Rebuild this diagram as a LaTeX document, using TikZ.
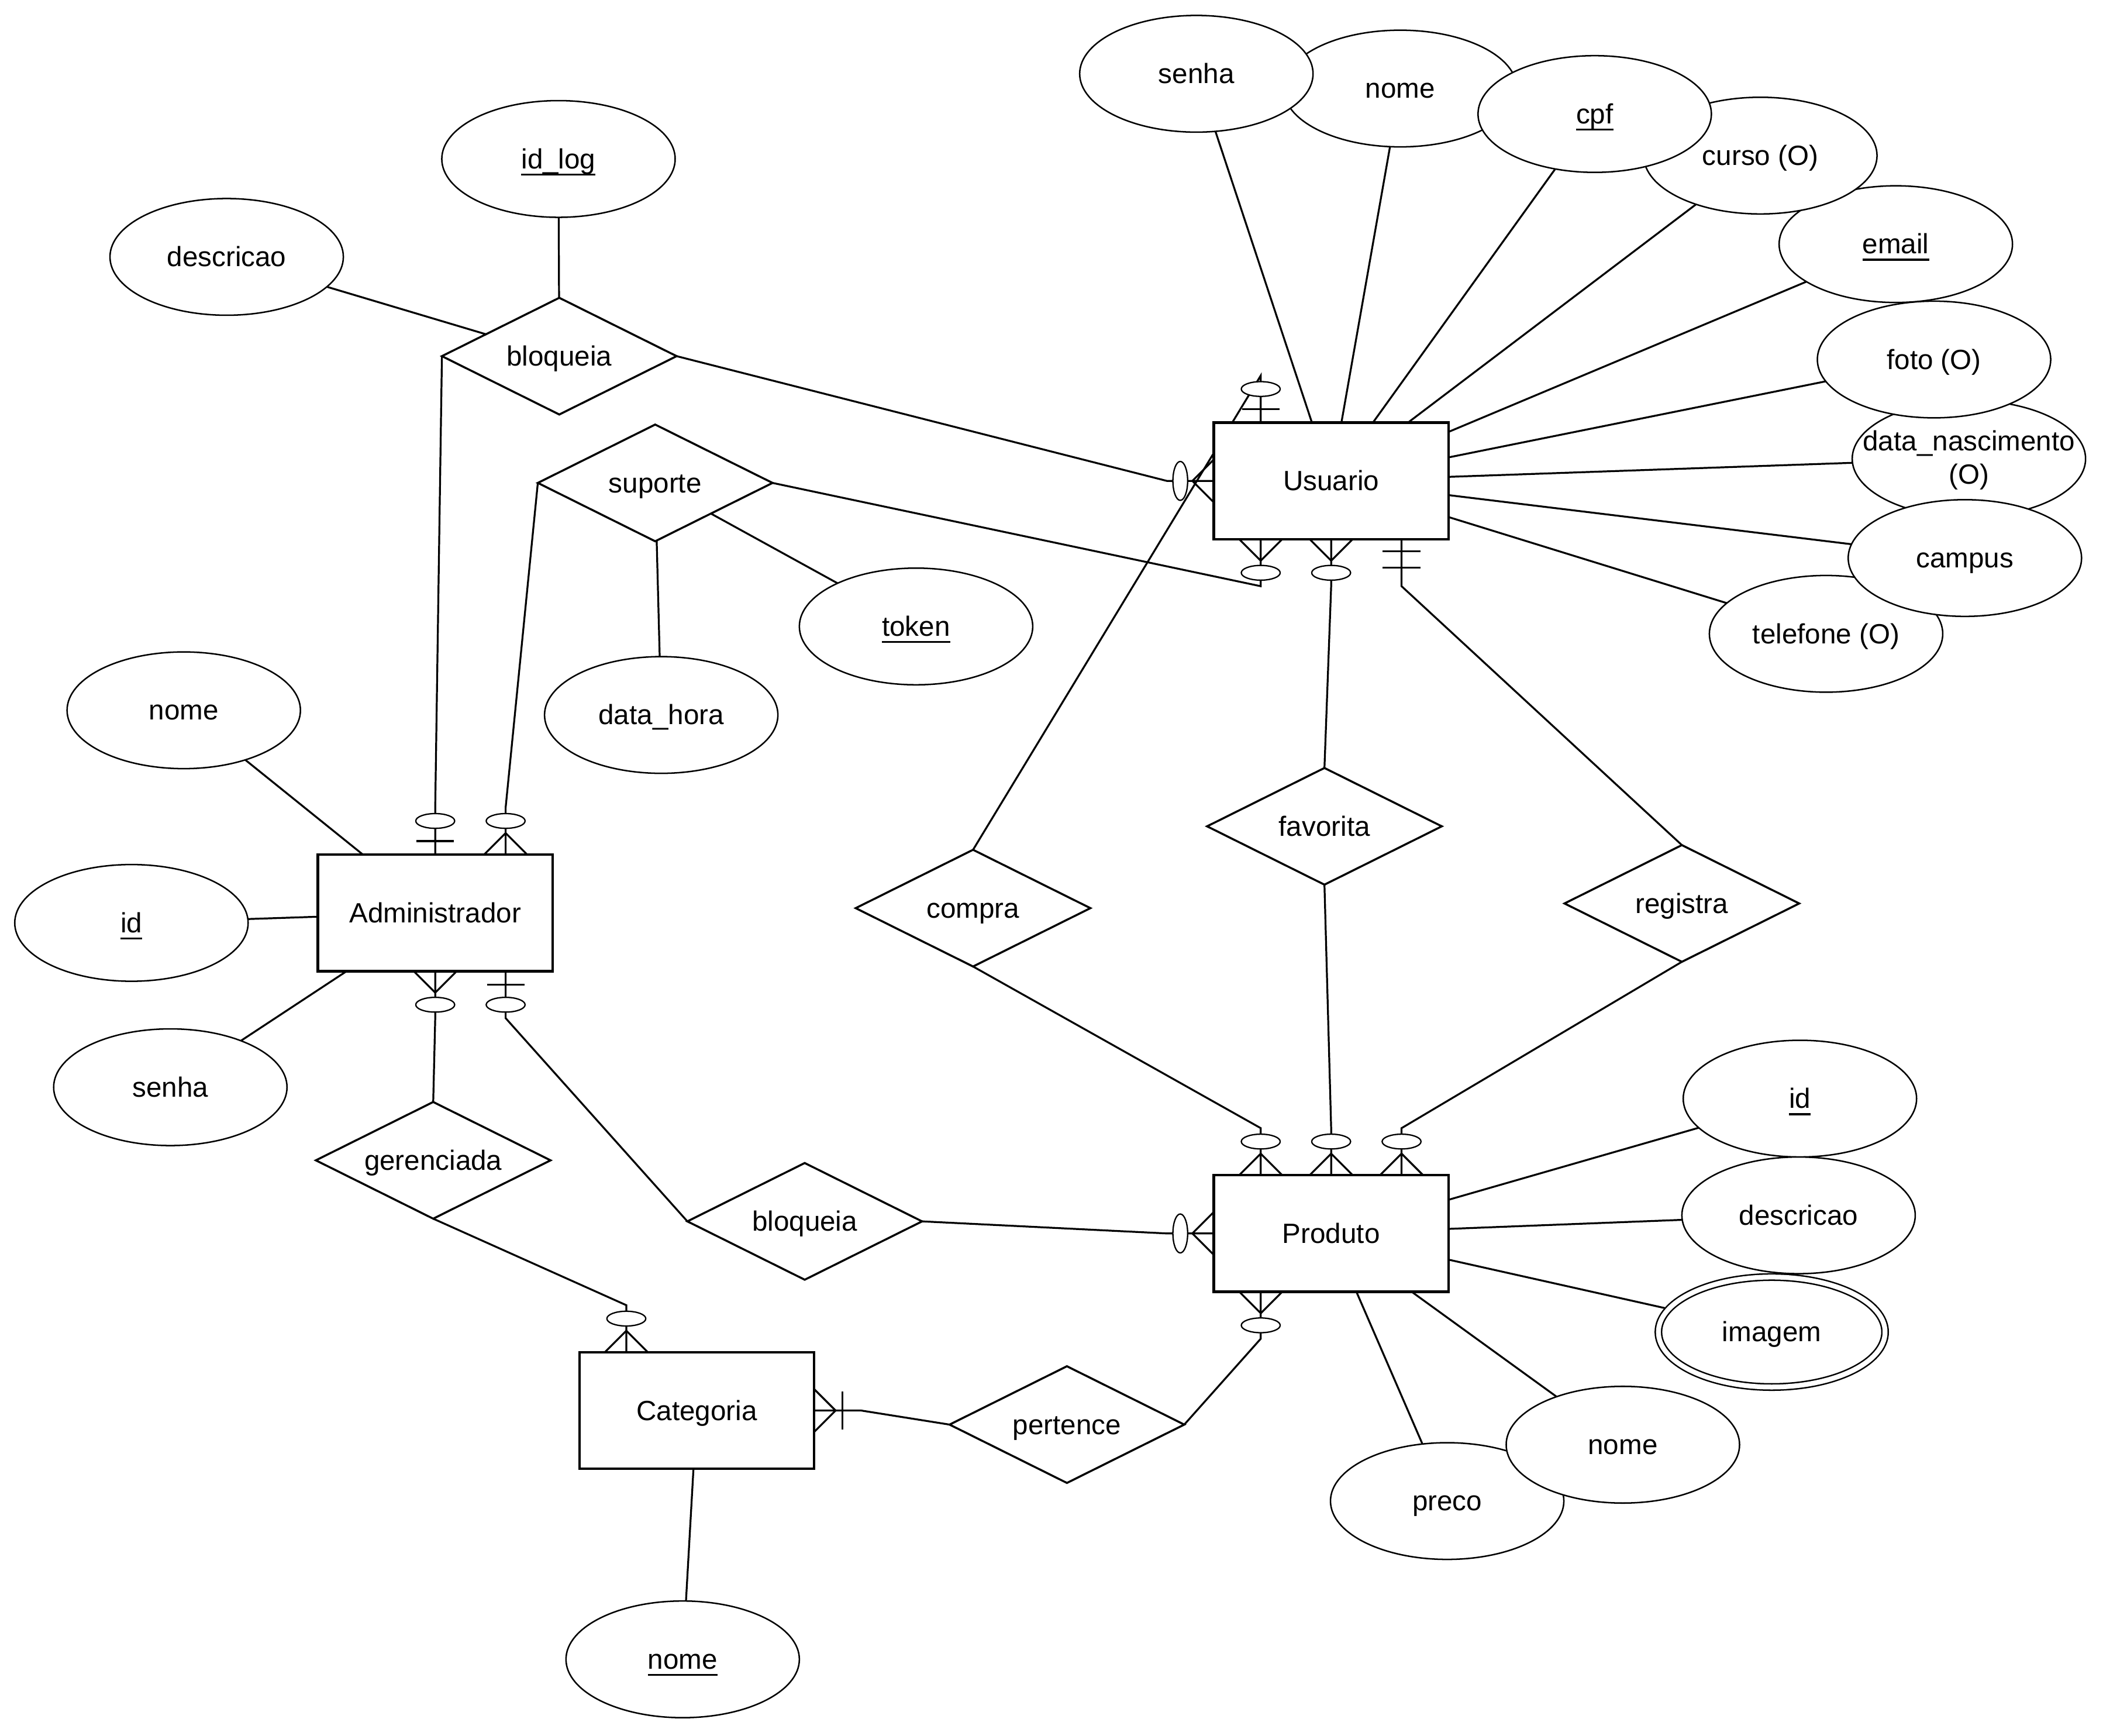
\documentclass[tikz,border=0pt]{standalone}
\usepackage{fontspec}
\setmainfont{Liberation Sans}
\usetikzlibrary{shapes.geometric,backgrounds}
\newcommand{\erfont}{\fontsize{20.75pt}{24.9pt}\selectfont}
\newcommand{\erul}[1]{\sbox0{#1}\rlap{\usebox0}\rule[-5.2pt]{\wd0}{1.5pt}}
\tikzset{
  entity/.style={draw, rectangle, line width=1.9pt, fill=white, minimum width=175pt, minimum height=87pt, inner sep=0pt, outer sep=0pt, font=\erfont, text height=19.6pt, text depth=5.2pt},
  rel/.style={draw, diamond, aspect=2, line width=1.5pt, fill=white, minimum width=175pt, minimum height=87pt, inner sep=0pt, outer sep=0pt, font=\erfont, text height=19.6pt, text depth=5.2pt},
  attr/.style={draw, ellipse, line width=1.1pt, fill=white, minimum width=174pt, minimum height=87pt, inner sep=0pt, outer sep=0pt, font=\erfont, text height=19.6pt, text depth=5.2pt},
  multi/.style={attr, double, double distance=3.6pt, minimum width=169pt, minimum height=82pt},
  conn/.style={line width=1.4pt, line join=miter},
  mk/.style={line width=1.4pt},
  mkell/.style={line width=1.0pt, fill=white},
}
% markers: #1 = attachment coordinate, #2 = outward direction (degrees)
\newcommand{\mkzm}[2]{\begin{scope}[shift={(#1)},rotate=#2]
  \draw[mk] (0pt,16pt) -- (16pt,0pt) -- (0pt,-16pt);
  \draw[mkell] (25pt,0pt) ellipse [x radius=5.5pt, y radius=14.5pt];
\end{scope}}
\newcommand{\mkzo}[2]{\begin{scope}[shift={(#1)},rotate=#2]
  \draw[mk] (10pt,-14pt) -- (10pt,14pt);
  \draw[mkell] (25pt,0pt) ellipse [x radius=5.5pt, y radius=14.5pt];
\end{scope}}
\newcommand{\mkmo}[2]{\begin{scope}[shift={(#1)},rotate=#2]
  \draw[mk] (9pt,-14pt) -- (9pt,14pt);
  \draw[mk] (21pt,-14pt) -- (21pt,14pt);
\end{scope}}
\newcommand{\mkom}[2]{\begin{scope}[shift={(#1)},rotate=#2]
  \draw[mk] (0pt,16pt) -- (16pt,0pt) -- (0pt,-16pt);
  \draw[mk] (21pt,-14pt) -- (21pt,14pt);
\end{scope}}
\begin{document}
\begin{tikzpicture}[x=1pt,y=-1pt]
\useasboundingbox (0,0) rectangle (1568,1294);

% entities
\node[entity] (usuario) at (992.5,358.5) {Usuario};
\node[entity] (admin) at (324.5,680.5) {Administrador};
\node[entity] (produto) at (992.5,919.5) {Produto};
\node[entity] (categoria) at (519.5,1051.5) {Categoria};

% relationships
\node[rel] (bloqA) at (417,265.5) {bloqueia};
\node[rel] (suporte) at (488.5,360) {suporte};
\node[rel] (favorita) at (987.5,616) {favorita};
\node[rel] (compra) at (725.5,677) {compra};
\node[rel] (registra) at (1254,673.5) {registra};
\node[rel] (gerenciada) at (323,865) {gerenciada};
\node[rel] (bloqB) at (600,910.5) {bloqueia};
\node[rel] (pertence) at (795.5,1062) {pertence};

% attributes (order gives stacking)
\node[attr] (tel) at (1361.5,472.5) {telefone (O)};
\node[attr] (dn) at (1468,342) {};
\node[font=\erfont, align=center, inner sep=0pt] (dnlabel) at (1468,343) {data\_nascimento\\(O)};
\node[attr] (campus) at (1465,416) {campus};
\node[attr] (foto) at (1442,268) {foto (O)};
\node[attr] (email) at (1413.5,182) {\erul{email}};
\node[attr] (curso) at (1312.5,116) {curso (O)};
\node[attr] (nomeU) at (1044,66) {nome};
\node[attr] (cpf) at (1189,85) {\erul{cpf}};
\node[attr] (senhaU) at (892,55) {senha};
\node[attr] (idlog) at (416.4,118.5) {\erul{id\_log}};
\node[attr] (descA) at (169,191.5) {descricao};
\node[attr] (token) at (683,467) {\erul{token}};
\node[attr] (datahora) at (493,533) {data\_hora};
\node[attr] (nomeA) at (137,529.5) {nome};
\node[attr] (idA) at (98,688) {\erul{id}};
\node[attr] (senhaA) at (127,810.5) {senha};
\node[attr] (idP) at (1342,819) {\erul{id}};
\node[attr] (descP) at (1341,906) {descricao};
\node[multi] (img) at (1321,993) {imagem};
\node[attr] (preco) at (1079,1119) {preco};
\node[attr] (nomeP) at (1210,1077) {nome};
\node[attr] (nomeC) at (509,1237) {\erul{nome}};

% attachment points and stub ends
\coordinate (uT) at ([xshift=-52.5pt]usuario.north);
\coordinate (uTs) at ([yshift=35pt]uT);
\coordinate (uL) at (usuario.west);
\coordinate (uLs) at ([xshift=-35pt]uL);
\coordinate (uB1) at ([xshift=-52.5pt]usuario.south);
\coordinate (uB1s) at ([yshift=-35pt]uB1);
\coordinate (uB2) at (usuario.south);
\coordinate (uB2s) at ([yshift=-35pt]uB2);
\coordinate (uB3) at ([xshift=52.5pt]usuario.south);
\coordinate (uB3s) at ([yshift=-35pt]uB3);
\coordinate (aT1) at (admin.north);
\coordinate (aT1s) at ([yshift=35pt]aT1);
\coordinate (aT2) at ([xshift=52.5pt]admin.north);
\coordinate (aT2s) at ([yshift=35pt]aT2);
\coordinate (aB1) at (admin.south);
\coordinate (aB1s) at ([yshift=-35pt]aB1);
\coordinate (aB2) at ([xshift=52.5pt]admin.south);
\coordinate (aB2s) at ([yshift=-35pt]aB2);
\coordinate (pT1) at ([xshift=-52.5pt]produto.north);
\coordinate (pT1s) at ([yshift=35pt]pT1);
\coordinate (pT2) at (produto.north);
\coordinate (pT2s) at ([yshift=35pt]pT2);
\coordinate (pT3) at ([xshift=52.5pt]produto.north);
\coordinate (pT3s) at ([yshift=35pt]pT3);
\coordinate (pL) at (produto.west);
\coordinate (pLs) at ([xshift=-35pt]pL);
\coordinate (pB) at ([xshift=-52.5pt]produto.south);
\coordinate (pBs) at ([yshift=-35pt]pB);
\coordinate (cT) at ([xshift=-52.5pt]categoria.north);
\coordinate (cTs) at ([yshift=35pt]cT);
\coordinate (cR) at (categoria.east);
\coordinate (cRs) at ([xshift=35pt]cR);

\begin{pgfonlayer}{background}
\fill[white] (0,0) rectangle (1568,1294);
% relationship connectors
\draw[conn] (compra.north) -- (uTs) -- (uT);
\draw[conn] (bloqA.east) -- (uLs) -- (uL);
\draw[conn] (suporte.east) -- (uB1s) -- (uB1);
\draw[conn] (favorita.north) -- (uB2s) -- (uB2);
\draw[conn] (registra.north) -- (uB3s) -- (uB3);
\draw[conn] (bloqA.west) -- (aT1s) -- (aT1);
\draw[conn] (suporte.west) -- (aT2s) -- (aT2);
\draw[conn] (gerenciada.north) -- (aB1s) -- (aB1);
\draw[conn] (bloqB.west) -- (aB2s) -- (aB2);
\draw[conn] (compra.south) -- (pT1s) -- (pT1);
\draw[conn] (favorita.south) -- (pT2s) -- (pT2);
\draw[conn] (registra.south) -- (pT3s) -- (pT3);
\draw[conn] (bloqB.east) -- (pLs) -- (pL);
\draw[conn] (pertence.east) -- (pBs) -- (pB);
\draw[conn] (gerenciada.south) -- (cTs) -- (cT);
\draw[conn] (pertence.west) -- (cRs) -- (cR);
% attribute connectors
\foreach \a in {senhaU,nomeU,cpf,curso,email,foto,dn,campus,tel}
  \draw[conn] (\a) -- (usuario);
\foreach \a in {nomeA,idA,senhaA}
  \draw[conn] (\a) -- (admin);
\foreach \a in {idlog,descA}
  \draw[conn] (\a) -- (bloqA);
\foreach \a in {token,datahora}
  \draw[conn] (\a) -- (suporte);
\foreach \a in {idP,descP,img,nomeP,preco}
  \draw[conn] (\a) -- (produto);
\draw[conn] (nomeC) -- (categoria);
\end{pgfonlayer}

% cardinality markers
\mkzo{uT}{90}
\mkzm{uL}{180}
\mkzm{uB1}{-90}
\mkzm{uB2}{-90}
\mkmo{uB3}{-90}
\mkzo{aT1}{90}
\mkzm{aT2}{90}
\mkzm{aB1}{-90}
\mkzo{aB2}{-90}
\mkzm{pT1}{90}
\mkzm{pT2}{90}
\mkzm{pT3}{90}
\mkzm{pL}{180}
\mkzm{pB}{-90}
\mkzm{cT}{90}
\mkom{cR}{0}
\end{tikzpicture}
\end{document}
